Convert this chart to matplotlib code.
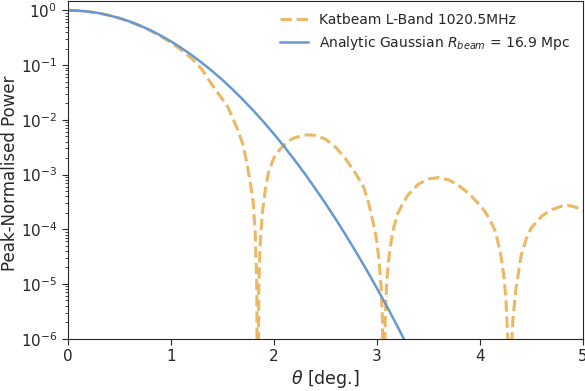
import numpy as np
import matplotlib
matplotlib.use("Agg")
import matplotlib.pyplot as plt

# analytic Gaussian beam profile (peak-normalised power)
theta_gauss = [0.0, 0.1, 0.2, 0.3, 0.4, 0.5, 0.6, 0.7, 0.8, 0.9, 1.0, 1.1, 1.2,
               1.3, 1.4, 1.5, 1.6, 1.7, 1.8, 1.9, 2.0, 2.1, 2.2, 2.3, 2.4, 2.5,
               2.6, 2.7, 2.8, 2.9, 3.0, 3.1, 3.2, 3.3, 3.4]
power_gauss = [1.0, 0.987, 0.949, 0.890, 0.812, 0.723, 0.627, 0.529, 0.436,
               0.349, 0.273, 0.208, 0.154, 0.111, 0.0785, 0.0538, 0.0360,
               0.0234, 0.0149, 0.0092, 5.55e-3, 3.26e-3, 1.86e-3, 1.04e-3,
               5.64e-4, 2.99e-4, 1.54e-4, 7.73e-5, 3.79e-5, 1.81e-5, 8.4e-6,
               3.8e-6, 1.68e-6, 7.2e-7, 3.0e-7]

# katbeam L-band profile, log10 of peak-normalised power
theta_kat = [0.0, 0.1, 0.2, 0.3, 0.4, 0.5, 0.6, 0.7, 0.8, 0.9, 1.0, 1.1, 1.2,
             1.3, 1.4, 1.5, 1.55, 1.6, 1.65, 1.7, 1.74, 1.77, 1.8, 1.82, 1.835,
             1.845,
             1.855, 1.87, 1.89, 1.92, 1.95, 2.0, 2.05, 2.1, 2.15, 2.2, 2.3,
             2.35, 2.4, 2.5, 2.6, 2.7, 2.8, 2.87, 2.92, 2.95, 2.98, 3.0, 3.02,
             3.04, 3.055, 3.068,
             3.08, 3.095, 3.11, 3.13, 3.16, 3.2, 3.25, 3.3, 3.4, 3.5, 3.6,
             3.7, 3.8, 3.9, 4.0, 4.05, 4.1, 4.15, 4.2, 4.23, 4.25, 4.27, 4.285,
             4.30, 4.32, 4.35, 4.40, 4.45, 4.5, 4.6, 4.7, 4.8, 4.85, 4.9, 5.0,
             5.05]
logp_kat = [0.0, -0.0056, -0.0226, -0.051, -0.091, -0.142, -0.205, -0.280,
            -0.368, -0.470, -0.585, -0.72, -0.87, -1.07, -1.36, -1.62, -1.75,
            -1.96, -2.18, -2.45, -2.80, -3.12, -3.50, -4.05, -5.0,
            -9.0,
            -5.0, -4.2, -3.69, -3.25, -2.95, -2.70, -2.56, -2.46, -2.38, -2.33,
            -2.28, -2.275, -2.285, -2.35, -2.50, -2.72, -3.00, -3.22, -3.52,
            -3.76, -4.01, -4.23, -4.54, -5.01, -5.67, -9.0,
            -5.74, -5.0, -4.65, -4.32, -4.0, -3.72, -3.54, -3.38, -3.18, -3.08,
            -3.055, -3.10, -3.21, -3.36, -3.56, -3.68, -3.84, -4.04, -4.44,
            -4.82, -5.21, -5.95, -9.0,
            -6.4, -5.65, -5.08, -4.48, -4.17, -3.97, -3.76, -3.64, -3.575,
            -3.565, -3.58, -3.65, -3.69]

power_kat = 10.0 ** np.array(logp_kat)

plt.rcParams['font.family'] = 'DejaVu Sans'
plt.rcParams['text.color'] = '0.15'
plt.rcParams['axes.labelcolor'] = '0.15'
plt.rcParams['xtick.color'] = '0.15'
plt.rcParams['ytick.color'] = '0.15'

fig = plt.figure(figsize=(5.85, 3.91), dpi=100)
ax = fig.add_axes([67.6 / 585, 1 - 338.7 / 391, (583 - 67.6) / 585, (338.7 - 0.7) / 391])

ax.plot(theta_kat, power_kat, ls='--', lw=2.2, color='#ebb864',
        label='Katbeam L-Band 1020.5MHz')
ax.plot(theta_gauss, power_gauss, ls='-', lw=1.8, color='#6699d2',
        label=r'Analytic Gaussian $R_{beam}$ = 16.9 Mpc')

ax.set_yscale('log')
ax.set_xlim(0, 5)
ax.set_ylim(1e-6, 1.5)
ax.set_xlabel(r'$\theta$ [deg.]', fontsize=12.5, labelpad=3)
ax.set_ylabel('Peak-Normalised Power', fontsize=12)
ax.yaxis.set_label_coords(-0.095, 0.49)
ax.tick_params(axis='both', which='major', labelsize=11, length=4)
ax.tick_params(axis='y', which='minor', length=2.2)
for s in ax.spines.values():
    s.set_color('0.15')

ax.legend(loc='upper right', frameon=False, fontsize=10)

fig.savefig('out.png', dpi=100)
